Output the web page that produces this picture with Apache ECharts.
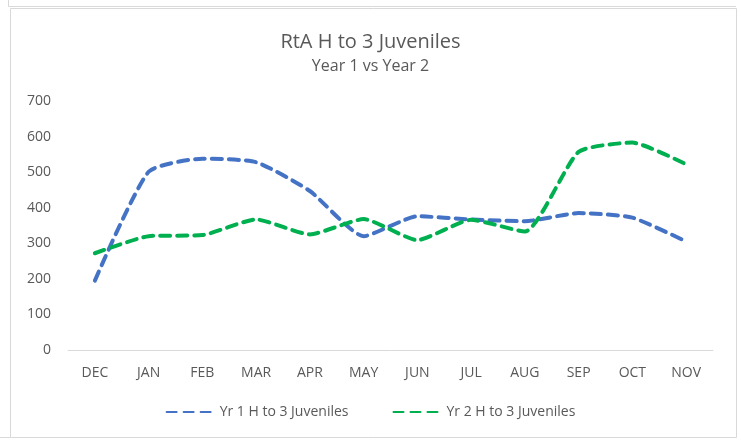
<!DOCTYPE html>
<html><head><meta charset="utf-8">
<script src="https://cdn.jsdelivr.net/npm/echarts@6/dist/echarts.min.js"></script>
<style>html,body{margin:0;padding:0;background:#fff}#c{width:741px;height:440px}</style>
</head><body><div id="c"></div>
<script>
var categories = ['DEC','JAN','FEB','MAR','APR','MAY','JUN','JUL','AUG','SEP','OCT','NOV'];
var yr1 = [195, 501, 538, 528, 447, 320, 376, 367, 362, 385, 372, 305];
var yr2 = [272, 320, 323, 367, 325, 368, 309, 366, 333, 557, 583, 522];
var seriesNames = ['Yr 1 H to 3 Juveniles', 'Yr 2 H to 3 Juveniles'];
var yTicks = [0, 100, 200, 300, 400, 500, 600, 700];

var font = 'Open Sans, Noto Sans, sans-serif';
var chart = echarts.init(document.getElementById('c'));
chart.setOption({
  animation: false,
  backgroundColor: '#fff',
  title: {
    text: 'RtA H to 3 Juveniles',
    subtext: 'Year 1 vs Year 2',
    left: 'center', top: 27, itemGap: 6,
    textStyle: {fontFamily: font, fontSize: 20, fontWeight: 'normal', color: '#595959'},
    subtextStyle: {fontFamily: font, fontSize: 16, color: '#595959'}
  },
  graphic: [
    {type: 'rect', shape: {x: 10.5, y: 8.5, width: 726, height: 429}, style: {fill: 'none', stroke: '#d9d9d9', lineWidth: 1}, silent: true},
    {type: 'line', shape: {x1: 8.5, y1: 0, x2: 8.5, y2: 6.5}, style: {stroke: '#d9d9d9', lineWidth: 1}, silent: true},
    {type: 'line', shape: {x1: 8.5, y1: 6.5, x2: 736, y2: 6.5}, style: {stroke: '#d9d9d9', lineWidth: 1}, silent: true},
    {type: 'line', shape: {x1: 0, y1: 437.5, x2: 10, y2: 437.5}, style: {stroke: '#d9d9d9', lineWidth: 1}, silent: true}
  ],
  legend: {
    bottom: 16, left: 'center', itemWidth: 48, itemHeight: 12, itemGap: 44,
    itemStyle: {opacity: 0},
    textStyle: {fontFamily: font, fontSize: 14, color: '#595959'},
    data: seriesNames
  },
  grid: {left: 68, right: 28, top: 101, bottom: 90},
  xAxis: {
    type: 'category', data: categories, boundaryGap: true,
    axisLine: {lineStyle: {color: '#d9d9d9', width: 1}},
    axisTick: {show: false},
    axisLabel: {fontFamily: font, fontSize: 14, color: '#595959', margin: 16}
  },
  yAxis: {
    type: 'value', min: yTicks[0], max: yTicks[yTicks.length-1], interval: 100,
    splitLine: {show: false},
    axisLine: {show: false}, axisTick: {show: false},
    axisLabel: {fontFamily: font, fontSize: 14, color: '#595959', margin: 17}
  },
  series: [
    {name: seriesNames[0], type: 'line', data: yr1, smooth: 0.18, symbol: 'none',
     itemStyle: {color: '#4472C4'},
     lineStyle: {color: '#4472C4', width: 4, type: [10, 7], cap: 'round'}},
    {name: seriesNames[1], type: 'line', data: yr2, smooth: 0.18, symbol: 'none',
     itemStyle: {color: '#00B050'},
     lineStyle: {color: '#00B050', width: 4, type: [10, 7], cap: 'round'}}
  ]
});
</script></body></html>
